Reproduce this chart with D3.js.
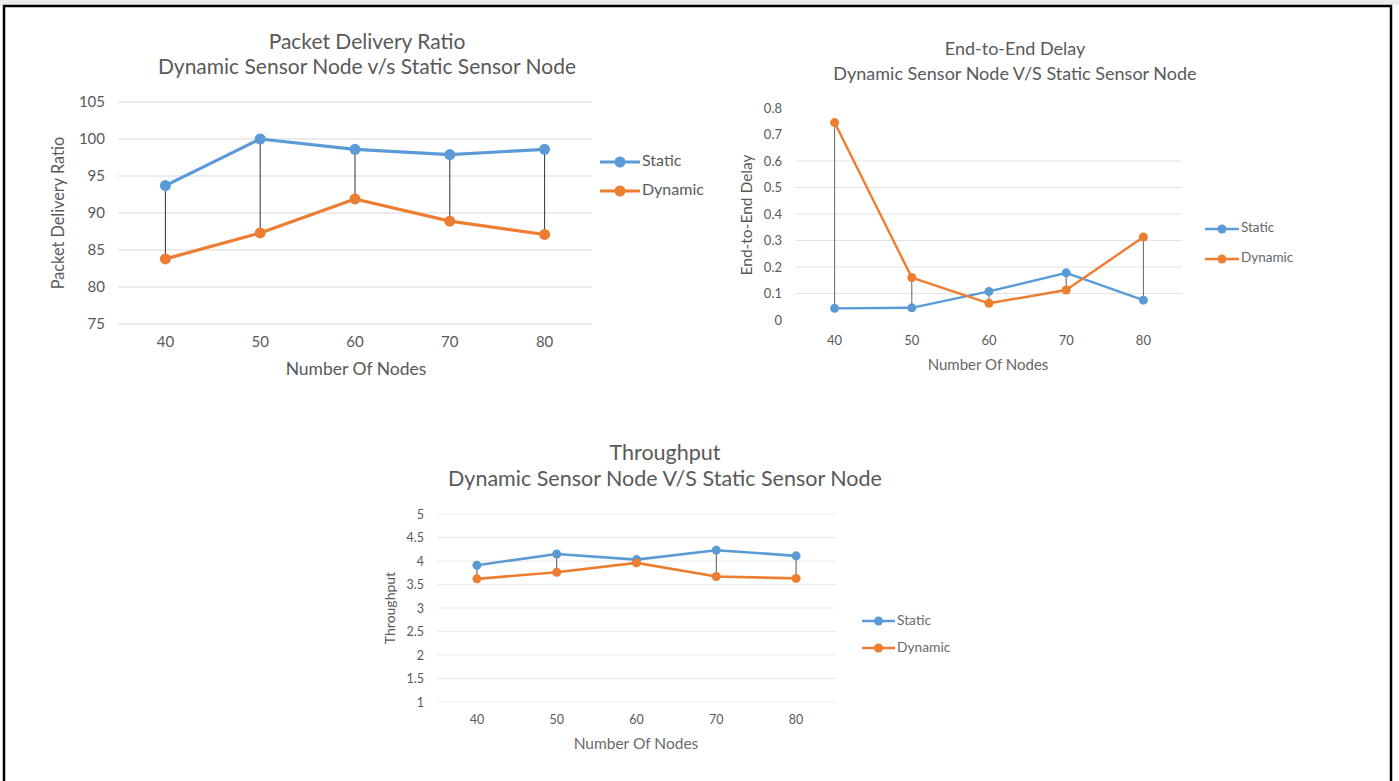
<!DOCTYPE html>
<html>
<head>
<meta charset="utf-8">
<script src="https://cdn.jsdelivr.net/npm/d3@7"></script>
<style>
  html, body { margin: 0; padding: 0; background: #fff; }
  svg { display: block; }
  text { font-family: Lato, "Open Sans", sans-serif; fill: #595959; }
</style>
</head>
<body>
<svg id="chart" width="1399" height="781"></svg>
<script>
// ---- data ----
const nodes = [40, 50, 60, 70, 80];
const seriesNames = ["Static", "Dynamic"];

const pdrStatic  = [93.7, 100, 98.6, 97.9, 98.6];
const pdrDynamic = [83.8, 87.3, 91.9, 88.9, 87.1];
const pdrTicks   = [75, 80, 85, 90, 95, 100, 105];

const delayStatic  = [0.044, 0.046, 0.108, 0.178, 0.075];
const delayDynamic = [0.745, 0.160, 0.063, 0.113, 0.313];
const delayTicks   = [0, 0.1, 0.2, 0.3, 0.4, 0.5, 0.6, 0.7, 0.8];
const delayGridTicks = [0.1, 0.2, 0.3, 0.4, 0.5, 0.6];

const tputStatic  = [3.91, 4.15, 4.03, 4.23, 4.11];
const tputDynamic = [3.62, 3.76, 3.96, 3.67, 3.63];
const tputTicks   = [1, 1.5, 2, 2.5, 3, 3.5, 4, 4.5, 5];

const colors = ["#5B9BD5", "#ED7D31"];

const svg = d3.select("#chart");

// outer frame
svg.append("rect").attr("x", 0).attr("y", 0).attr("width", 1399).attr("height", 5).attr("fill", "#ececec");
svg.append("path")
  .attr("d", "M4,790 L4,6 L1391,6 L1391,790")
  .attr("fill", "none").attr("stroke", "#000").attr("stroke-width", 2.5);

function drawChart(cfg) {
  const g = svg.append("g");
  const x = d3.scaleBand().domain(nodes).range(cfg.xRange);
  const y = d3.scaleLinear().domain(cfg.yDomain).range(cfg.yRange);
  const cx = d => x(d) + x.bandwidth() / 2;

  // gridlines
  g.append("g").selectAll("line").data(cfg.gridTicks).join("line")
    .attr("x1", cfg.xRange[0]).attr("x2", cfg.xRange[1])
    .attr("y1", d => y(d)).attr("y2", d => y(d))
    .attr("stroke", cfg.gridColor).attr("stroke-width", 1);

  // y axis (labels only)
  const yAxis = d3.axisLeft(y).tickValues(cfg.yTicks).tickSize(0).tickPadding(0)
    .tickFormat(cfg.yFormat);
  const ya = g.append("g").attr("transform", `translate(${cfg.yLabelX},0)`).call(yAxis);
  ya.select(".domain").remove();
  ya.selectAll("text").attr("font-size", cfg.tickSize).attr("fill", cfg.textColor)
    .style("font-family", "Lato, 'Open Sans', sans-serif");

  // x axis (labels only)
  const xAxis = d3.axisBottom(x).tickSize(0).tickPadding(0);
  const xa = g.append("g").attr("transform", `translate(0,${cfg.xLabelY})`).call(xAxis);
  xa.select(".domain").remove();
  xa.selectAll("text").attr("font-size", cfg.tickSize).attr("fill", cfg.textColor)
    .attr("dy", "0.35em")
    .style("font-family", "Lato, 'Open Sans', sans-serif");

  // drop lines
  g.append("g").selectAll("line").data(nodes).join("line")
    .attr("x1", d => cx(d)).attr("x2", d => cx(d))
    .attr("y1", (d, i) => y(cfg.s1[i])).attr("y2", (d, i) => y(cfg.s2[i]))
    .attr("stroke", cfg.dropColor).attr("stroke-width", 1);

  // series
  const line = d3.line().x(d => cx(d.n)).y(d => y(d.v));
  [cfg.s1, cfg.s2].forEach((vals, si) => {
    const pts = nodes.map((n, i) => ({ n, v: vals[i] }));
    g.append("path").datum(pts).attr("d", line)
      .attr("fill", "none").attr("stroke", colors[si])
      .attr("stroke-width", cfg.lineW).attr("stroke-linejoin", "round").attr("stroke-linecap", "round");
    g.append("g").selectAll("circle").data(pts).join("circle")
      .attr("cx", d => cx(d.n)).attr("cy", d => y(d.v)).attr("r", cfg.r)
      .attr("fill", colors[si]);
  });

  // titles
  cfg.titles.forEach(t => {
    g.append("text").attr("x", cfg.titleX).attr("y", t.y).attr("text-anchor", "middle")
      .attr("dominant-baseline", "middle").attr("font-size", t.size).text(t.text);
  });
  // axis titles
  g.append("text").attr("x", cfg.xTitle.x).attr("y", cfg.xTitle.y).attr("text-anchor", "middle")
    .attr("dominant-baseline", "middle").attr("font-size", cfg.xTitle.size)
    .attr("fill", cfg.textColor).style("fill", cfg.textColor).text("Number Of Nodes");
  g.append("text").attr("transform", `translate(${cfg.yTitle.x},${cfg.yTitle.y}) rotate(-90)`)
    .attr("text-anchor", "middle").attr("dominant-baseline", "middle")
    .attr("font-size", cfg.yTitle.size).text(cfg.yTitle.text);

  // legend
  seriesNames.forEach((name, i) => {
    const ly = cfg.legend.y[i];
    g.append("line").attr("x1", cfg.legend.x1).attr("x2", cfg.legend.x2)
      .attr("y1", ly).attr("y2", ly).attr("stroke", colors[i]).attr("stroke-width", cfg.lineW);
    g.append("circle").attr("cx", (cfg.legend.x1 + cfg.legend.x2) / 2).attr("cy", ly)
      .attr("r", cfg.r).attr("fill", colors[i]);
    g.append("text").attr("x", cfg.legend.x2 + 2).attr("y", ly)
      .attr("dominant-baseline", "middle").attr("font-size", cfg.legend.size)
      .style("fill", cfg.textColor).text(name);
  });
}

drawChart({
  xRange: [118, 592], yDomain: [75, 105], yRange: [324, 102],
  yTicks: pdrTicks, gridTicks: pdrTicks, yFormat: d3.format("d"),
  gridColor: "#d9d9d9", dropColor: "#333", textColor: "#595959",
  s1: pdrStatic, s2: pdrDynamic, lineW: 3.2, r: 5.5,
  yLabelX: 105, xLabelY: 342, tickSize: 15,
  titleX: 367,
  titles: [
    { text: "Packet Delivery Ratio", y: 44, size: 21 },
    { text: "Dynamic Sensor Node v/s Static Sensor Node", y: 69, size: 21 }
  ],
  xTitle: { x: 356, y: 371, size: 17.5 },
  yTitle: { x: 60, y: 213, size: 16.3, text: "Packet Delivery Ratio" },
  legend: { x1: 600, x2: 640, y: [162, 191], size: 16 }
});

drawChart({
  xRange: [796, 1182], yDomain: [0, 0.8], yRange: [320, 108],
  yTicks: delayTicks, gridTicks: delayGridTicks, yFormat: d => d === 0 ? "0" : d3.format(".1f")(d),
  gridColor: "#e3e3e3", dropColor: "#666", textColor: "#666",
  s1: delayStatic, s2: delayDynamic, lineW: 2.4, r: 4.5,
  yLabelX: 782, xLabelY: 340, tickSize: 13,
  titleX: 1015,
  titles: [
    { text: "End-to-End Delay", y: 50, size: 18 },
    { text: "Dynamic Sensor Node V/S Static Sensor Node", y: 75, size: 18 }
  ],
  xTitle: { x: 988, y: 366, size: 15 },
  yTitle: { x: 748, y: 215, size: 15.5, text: "End-to-End Delay" },
  legend: { x1: 1205, x2: 1239, y: [229, 259], size: 13.5 }
});

drawChart({
  xRange: [437, 836], yDomain: [1, 5], yRange: [702, 514],
  yTicks: tputTicks, gridTicks: tputTicks, yFormat: d => String(d),
  gridColor: "#ebebeb", dropColor: "#555", textColor: "#6a6a6a",
  s1: tputStatic, s2: tputDynamic, lineW: 2.6, r: 4.5,
  yLabelX: 424, xLabelY: 720, tickSize: 12.5,
  titleX: 665,
  titles: [
    { text: "Throughput", y: 455, size: 21.5 },
    { text: "Dynamic Sensor Node V/S Static Sensor Node", y: 481, size: 21.5 }
  ],
  xTitle: { x: 636, y: 745, size: 15.5 },
  yTitle: { x: 391, y: 608, size: 14, text: "Throughput" },
  legend: { x1: 862, x2: 895, y: [621, 648], size: 13.8 }
});
</script>
</body>
</html>
